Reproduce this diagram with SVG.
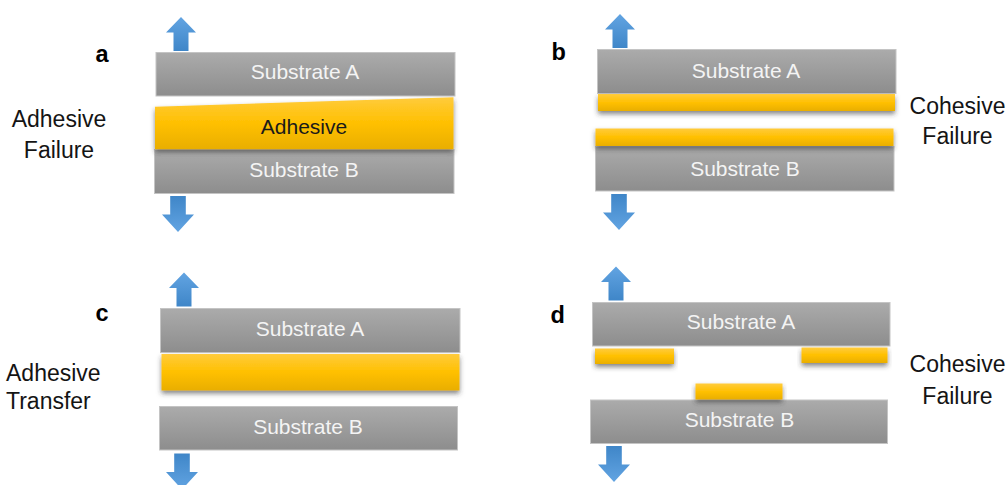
<svg xmlns="http://www.w3.org/2000/svg" width="1008" height="485" viewBox="0 0 1008 485">
  <defs>
    <linearGradient id="gSub" x1="0" y1="0" x2="0" y2="1">
      <stop offset="0" stop-color="#ababab"/>
      <stop offset="1" stop-color="#8d8d8d"/>
    </linearGradient>
    <linearGradient id="gAdh" x1="0" y1="0" x2="0" y2="1">
      <stop offset="0" stop-color="#ffcb3c"/>
      <stop offset="0.5" stop-color="#ffc000"/>
      <stop offset="1" stop-color="#e9ae00"/>
    </linearGradient>
    <linearGradient id="gUp" x1="0" y1="0" x2="0" y2="1">
      <stop offset="0" stop-color="#62a4e2"/>
      <stop offset="1" stop-color="#3f86c8"/>
    </linearGradient>
    <linearGradient id="gDown" x1="0" y1="1" x2="0" y2="0">
      <stop offset="0" stop-color="#62a4e2"/>
      <stop offset="1" stop-color="#3f86c8"/>
    </linearGradient>
    <filter id="shadow" x="-5%" y="-40%" width="110%" height="200%">
      <feGaussianBlur in="SourceAlpha" stdDeviation="2.4"/>
      <feOffset dy="3" result="b"/>
      <feFlood flood-color="#333333" flood-opacity="0.6"/>
      <feComposite in2="b" operator="in"/>
      <feMerge>
        <feMergeNode/>
        <feMergeNode in="SourceGraphic"/>
      </feMerge>
    </filter>
    <!-- block arrows, tip at the origin -->
    <path id="arrowUp" d="M0,0 L15,15.5 L7.5,15.5 L7.5,34 L-7.5,34 L-7.5,15.5 L-15,15.5 Z" fill="url(#gUp)"/>
    <path id="arrowDown" d="M0,0 L16,-17.5 L7.8,-17.5 L7.8,-36 L-7.8,-36 L-7.8,-17.5 L-16,-17.5 Z" fill="url(#gDown)"/>
  </defs>
  <style>
    .sub { fill: url(#gSub); stroke: #c4c4c4; stroke-width: 1; }
    .adh { fill: url(#gAdh); filter: url(#shadow); }
    .subtxt { font-family: "Liberation Sans", Arial, sans-serif; font-size: 21px; fill: #f4f4f4; text-anchor: middle; }
    .adhtxt { font-family: "Liberation Sans", Arial, sans-serif; font-size: 21px; fill: #1a1a1a; text-anchor: middle; }
    .panel { font-family: "Liberation Sans", Arial, sans-serif; font-size: 23.5px; font-weight: bold; fill: #000; }
    .label { font-family: "Liberation Sans", Arial, sans-serif; font-size: 23px; fill: #141414; }
  </style>
  <rect width="1008" height="485" fill="#ffffff"/>

  <!-- a: adhesive failure -->
  <g id="panel-a">
    <text class="panel" x="95.5" y="62">a</text>
    <text class="label" x="59" y="127" text-anchor="middle">Adhesive</text>
    <text class="label" x="59" y="158" text-anchor="middle">Failure</text>
    <g id="a-substrate-b">
      <rect class="sub" x="154.5" y="149.5" width="299.5" height="44"/>
      <text class="subtxt" x="304" y="177">Substrate B</text>
    </g>
    <g id="a-substrate-a">
      <rect class="sub" x="156" y="52.5" width="299" height="43.5"/>
      <text class="subtxt" x="305" y="78.5">Substrate A</text>
    </g>
    <g id="a-adhesive">
      <polygon class="adh" points="155,106.7 453.5,97.3 453.5,149.3 155,149.3"/>
      <text class="adhtxt" x="304" y="133.5">Adhesive</text>
    </g>
  </g>

  <!-- b: cohesive failure, split through the layer -->
  <g id="panel-b">
    <text class="panel" x="551.5" y="60">b</text>
    <text class="label" x="957.5" y="113.5" text-anchor="middle">Cohesive</text>
    <text class="label" x="957.5" y="143.5" text-anchor="middle">Failure</text>
    <g id="b-substrate-a">
      <rect class="sub" x="597.5" y="49.5" width="298.5" height="44"/>
      <text class="subtxt" x="746" y="78">Substrate A</text>
    </g>
    <g id="b-substrate-b">
      <rect class="sub" x="595.5" y="146.5" width="298.5" height="44.5"/>
      <text class="subtxt" x="745" y="175.5">Substrate B</text>
    </g>
    <g id="b-adhesive-top">
      <rect class="adh" x="598" y="94" width="297" height="17"/>
    </g>
    <g id="b-adhesive-bottom">
      <rect class="adh" x="595.5" y="128.5" width="298" height="17.5"/>
    </g>
  </g>

  <!-- c: adhesive transfer -->
  <g id="panel-c">
    <text class="panel" x="95.5" y="321">c</text>
    <text class="label" x="6" y="381">Adhesive</text>
    <text class="label" x="6" y="409">Transfer</text>
    <g id="c-substrate-a">
      <rect class="sub" x="160.5" y="308.5" width="299.5" height="44"/>
      <text class="subtxt" x="310" y="335.5">Substrate A</text>
    </g>
    <g id="c-substrate-b">
      <rect class="sub" x="159.5" y="406.5" width="298" height="43.5"/>
      <text class="subtxt" x="308" y="433.5">Substrate B</text>
    </g>
    <g id="c-adhesive">
      <rect class="adh" x="161.5" y="354" width="298" height="36.5"/>
    </g>
  </g>

  <!-- d: cohesive failure, fragments on both sides -->
  <g id="panel-d">
    <text class="panel" x="550.5" y="323">d</text>
    <text class="label" x="957.5" y="372" text-anchor="middle">Cohesive</text>
    <text class="label" x="957.5" y="403.5" text-anchor="middle">Failure</text>
    <g id="d-substrate-a">
      <rect class="sub" x="592.5" y="302.5" width="297.5" height="43.5"/>
      <text class="subtxt" x="741" y="328.5">Substrate A</text>
    </g>
    <g id="d-substrate-b">
      <rect class="sub" x="590.5" y="400" width="297" height="43.5"/>
      <text class="subtxt" x="739.5" y="427">Substrate B</text>
    </g>
    <g id="d-adhesive-left">
      <rect class="adh" x="595" y="348.5" width="79" height="15.5"/>
    </g>
    <g id="d-adhesive-right">
      <rect class="adh" x="801.5" y="347.5" width="86" height="15.5"/>
    </g>
    <g id="d-adhesive-middle">
      <rect class="adh" x="695.5" y="383.5" width="87" height="16"/>
    </g>
  </g>

  <!-- pulling forces -->
  <g id="forces">
    <use href="#arrowUp" x="181" y="17"/>
    <use href="#arrowDown" x="178" y="232"/>
    <use href="#arrowUp" x="620" y="14"/>
    <use href="#arrowDown" x="619" y="230"/>
    <use href="#arrowUp" x="184" y="272.5"/>
    <use href="#arrowDown" x="182" y="489.5"/>
    <use href="#arrowUp" x="616" y="266.5"/>
    <use href="#arrowDown" x="614" y="482"/>
  </g>
</svg>
